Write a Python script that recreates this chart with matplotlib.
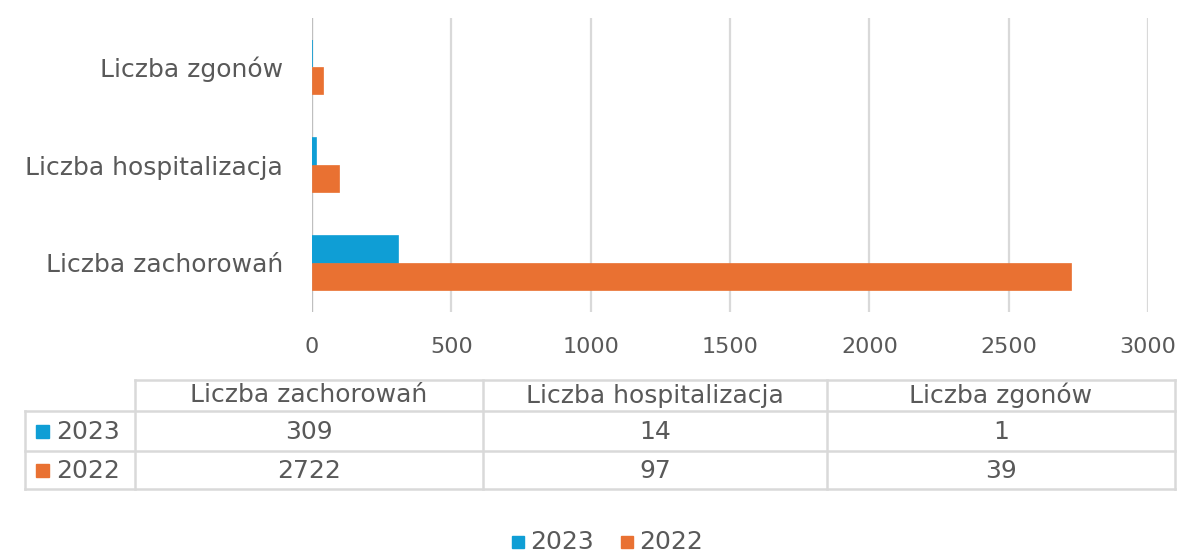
import matplotlib
matplotlib.use("Agg")
import matplotlib.pyplot as plt
from matplotlib.patches import Rectangle
import numpy as np

categories = ["Liczba zachorowań", "Liczba hospitalizacja", "Liczba zgonów"]
series_names = ["2023", "2022"]
values_2023 = [309, 14, 1]
values_2022 = [2722, 97, 39]
x_ticks = [0, 500, 1000, 1500, 2000, 2500, 3000]

BLUE = "#0F9ED5"
ORANGE = "#E97132"
TXT = "#595959"
GRID = "#D9D9D9"
FS = 18
FS_TICK = 16

plt.rcParams['font.family'] = ['DejaVu Sans']

W, H = 1177, 552
fig = plt.figure(figsize=(W / 100, H / 100), dpi=100)
fig.patch.set_facecolor("white")

def fx(px):
    return px / W

def fy(py):
    return 1 - py / H

left, right, top, bottom = 312, 1148, 18, 312
ax = fig.add_axes([fx(left), fy(bottom), fx(right) - fx(left), fy(top) - fy(bottom)])

y = np.arange(len(categories))
h = 0.28
ax.barh(y + h / 2, values_2023, height=h, color=BLUE, edgecolor=BLUE, linewidth=1.2,
        label=series_names[0], zorder=3)
ax.barh(y - h / 2, values_2022, height=h, color=ORANGE, edgecolor=ORANGE, linewidth=0.5,
        label=series_names[1], zorder=3)

ax.set_xlim(0, 3000)
ax.set_ylim(-0.5, 2.5)
ax.set_xticks(x_ticks)
ax.set_xticklabels([str(t) for t in x_ticks])
ax.set_yticks(y)
ax.set_yticklabels(categories)
ax.tick_params(axis="x", length=0, pad=18, labelsize=FS_TICK, labelcolor=TXT)
ax.tick_params(axis="y", length=0, pad=21, labelsize=FS, labelcolor=TXT)
ax.grid(axis="x", color=GRID, linewidth=1.6, zorder=0)
ax.grid(axis="y", visible=False)
for s in ax.spines.values():
    s.set_visible(False)
ax.axvline(0, color="#BFBFBF", linewidth=1.6, zorder=2)

# overlay axes in pixel coordinates for the data table and legend
ov = fig.add_axes([0, 0, 1, 1])
ov.set_xlim(0, W)
ov.set_ylim(H, 0)
ov.axis("off")

col_x = [25, 135, 483, 827, 1175]
row_y = [380, 411, 451, 489]
lc = GRID
lw = 1.8
ov.plot([col_x[1], col_x[-1]], [row_y[0], row_y[0]], color=lc, lw=lw)
for ry in row_y[1:]:
    ov.plot([col_x[0], col_x[-1]], [ry, ry], color=lc, lw=lw)
ov.plot([col_x[0], col_x[0]], [row_y[1], row_y[-1]], color=lc, lw=lw)
for cx in col_x[1:]:
    ov.plot([cx, cx], [row_y[0], row_y[-1]], color=lc, lw=lw)

for i, cat in enumerate(categories):
    cx = (col_x[i + 1] + col_x[i + 2]) / 2
    ov.text(cx, (row_y[0] + row_y[1]) / 2, cat, ha="center", va="center",
            fontsize=FS, color=TXT)

rows = [(series_names[0], values_2023, BLUE), (series_names[1], values_2022, ORANGE)]
for r, (name, vals, col) in enumerate(rows):
    cy = (row_y[r + 1] + row_y[r + 2]) / 2
    ov.add_patch(Rectangle((36, cy - 6), 13, 13, color=col))
    ov.text(56, cy + 1, name, ha="left", va="center", fontsize=FS, color=TXT)
    for i, v in enumerate(vals):
        cx = (col_x[i + 1] + col_x[i + 2]) / 2
        ov.text(cx, cy + 1, str(v), ha="center", va="center", fontsize=FS, color=TXT)

# legend
leg_y = 541
for (name, _, col), lx in zip(rows, [512, 621]):
    ov.add_patch(Rectangle((lx, leg_y - 5), 12, 12, color=col))
    ov.text(lx + 18, leg_y + 1, name, ha="left", va="center", fontsize=FS, color=TXT)

fig.savefig("out.png", dpi=100, facecolor="white")
